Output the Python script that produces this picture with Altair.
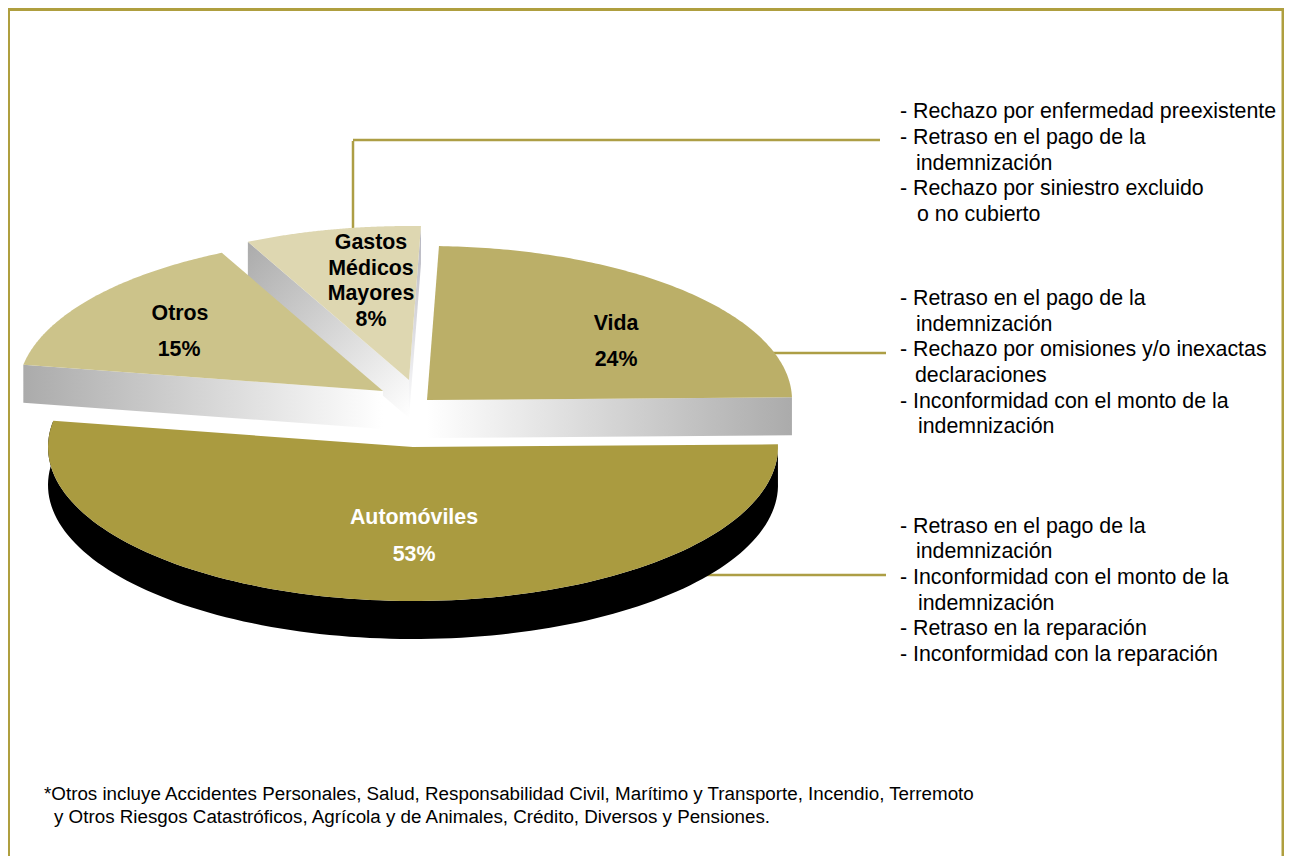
import numpy as np
import altair as alt

# ---- data ----
categorias = ["Automóviles", "Vida", "Otros", "Gastos Médicos Mayores"]
porcentajes = [53.0, 24.2, 15.0, 7.8]
colores = {"Automóviles": "#AA9B40", "Vida": "#BBAF68", "Otros": "#CCC38A",
           "Gastos Médicos Mayores": "#DED7B1"}

etiquetas = [
    ("Otros", True), ("15%", True), ("Vida", True), ("24%", True),
    ("Automóviles", False), ("53%", False), ("Gastos", True), ("Médicos", True),
    ("Mayores", True), ("8%", True),
]
notas = [
    "- Rechazo por enfermedad preexistente", "- Retraso en el pago de la", "indemnización",
    "- Rechazo por siniestro excluido", "o no cubierto",
    "- Retraso en el pago de la", "indemnización", "- Rechazo por omisiones y/o inexactas",
    "declaraciones", "- Inconformidad con el monto de la", "indemnización",
    "- Retraso en el pago de la", "indemnización", "- Inconformidad con el monto de la",
    "indemnización", "- Retraso en la reparación", "- Inconformidad con la reparación",
]
pie_texto = [
    "*Otros incluye Accidentes Personales, Salud, Responsabilidad Civil, Marítimo y Transporte, Incendio, Terremoto",
    "y Otros Riesgos Catastróficos, Agrícola y de Animales, Crédito, Diversos y Pensiones.",
]

# ---- layout (page pixels) ----
W, H = 1276, 848
XS = alt.Scale(domain=[8, 1284], range=[0, W], nice=False, zero=False)
YS = alt.Scale(domain=[8, 856], range=[0, H], nice=False, zero=False)
RX, RY, DEPTH = 365, 154, 38
START = -1.0
CENTROS = {"Automóviles": (413, 447), "Vida": (427, 400), "Otros": (383, 391),
           "Gastos Médicos Mayores": (409, 380)}
ORO = "#AF9F3F"
LINEA = "#AD9E45"

etq_pos = [(180, 314), (179, 350), (616, 324), (616, 360), (414, 518), (414, 555),
           (371, 243), (371, 269), (371, 294), (371, 320)]
nota_pos = [(900, 112), (900, 138), (916, 164), (900, 189), (917, 215),
            (900, 299), (916, 325), (900, 350), (915, 376), (900, 402), (918, 427),
            (900, 527), (916, 552), (900, 578), (918, 604), (900, 629), (900, 655)]
pie_pos = [(44, 794), (54, 817)]


def grad(c0, c1, x2=1, y2=0):
    return alt.LinearGradient(gradient="linear", x1=0, y1=0, x2=x2, y2=y2,
                              stops=[alt.GradientStop(offset=0, color=c0),
                                     alt.GradientStop(offset=1, color=c1)])


def face(points, fill):
    pts = [[float(a), float(b)] for a, b in points]
    pts.append(pts[0])
    feat = {"type": "Feature", "properties": {},
            "geometry": {"type": "Polygon", "coordinates": [pts]}}
    return alt.Chart(alt.Data(values=[feat])).mark_geoshape(
        fill=fill, stroke=None, strokeWidth=0).project(
        type="identity", scale=1, translate=[-8, -8])


def arc(cat, a0, a1, n=120, dy=0):
    cx, cy = CENTROS[cat]
    t = np.radians(np.linspace(a0, a1, n))
    return list(zip(cx + RX * np.cos(t), cy + RY * np.sin(t) + dy))


def rule(x, y, x2=None, y2=None, w=2.5, color=LINEA):
    d = {"x": x, "y": y}
    enc = {"x": alt.X("x:Q", scale=XS, axis=None), "y": alt.Y("y:Q", scale=YS, axis=None)}
    if x2 is not None:
        d["x2"] = x2
        enc["x2"] = alt.X2("x2:Q")
    if y2 is not None:
        d["y2"] = y2
        enc["y2"] = alt.Y2("y2:Q")
    return alt.Chart(alt.Data(values=[d])).mark_rule(color=color, strokeWidth=w).encode(**enc)


def texts(lines, pos, size, bold=False, align="left", colors=None):
    rows = [{"t": t, "x": p[0], "y": p[1], "c": (colors[i] if colors else "#000000")}
            for i, (t, p) in enumerate(zip(lines, pos))]
    return alt.Chart(alt.Data(values=rows)).mark_text(
        font="Liberation Sans", fontSize=size, fontWeight="bold" if bold else "normal",
        align=align, baseline="middle").encode(
        x=alt.X("x:Q", scale=XS, axis=None), y=alt.Y("y:Q", scale=YS, axis=None),
        text="t:N", color=alt.Color("c:N", scale=None))


# angular spans derived from the shares
ang = {c: p * 3.6 for c, p in zip(categorias, porcentajes)}
auto_a = (START, START + ang["Automóviles"])
vida_a = (START - ang["Vida"], START)
otros_a = (auto_a[1], auto_a[1] + ang["Otros"])
gastos_a = (otros_a[1], otros_a[1] + ang["Gastos Médicos Mayores"])


def top(cat, span):
    return face([CENTROS[cat]] + arc(cat, *span), colores[cat])


GRIS = "#ABABAB"
A = "Automóviles"; V = "Vida"; O = "Otros"; G = "Gastos Médicos Mayores"

def shift(p, d=DEPTH):
    return (p[0], p[1] + d)

# Gastos side faces
g_arc = arc(G, *gastos_a)
g_c = CENTROS[G]
gastos_izq = face([g_arc[0], g_c, shift(g_c), shift(g_arc[0])], grad(GRIS, "#FFFFFF", 1, 1))
gastos_der = face([g_arc[-1], shift(g_arc[-1]), shift(g_c), g_c], grad("#B4B4BE", "#FFFFFF", 0, 1))
# Otros side face
o_arc = arc(O, *otros_a)
o_c = CENTROS[O]
otros_lado = face([o_arc[0], o_c, shift(o_c), shift(o_arc[0])], grad(GRIS, "#FFFFFF"))
# Vida side face
v_arc = arc(V, *vida_a)
v_c = CENTROS[V]
vida_lado = face([v_c, v_arc[-1], shift(v_arc[-1]), shift(v_c)], grad("#FFFFFF", GRIS))
# Automoviles side wall (black)
a_arc = arc(A, *auto_a)
auto_lado = face(a_arc + [shift(p) for p in reversed(a_arc)], "#000000")

chart = alt.layer(
    rule(7.5, 5, y2=856, w=5, color=ORO),
    rule(5, 8, x2=1292, w=6, color=ORO),
    rule(1283, 5, y2=856, w=3, color=ORO),
    rule(353, 141, y2=240),
    rule(353, 140, x2=880),
    rule(770, 353, x2=886),
    rule(700, 575, x2=886),
    gastos_izq, gastos_der, top(G, gastos_a),
    otros_lado, top(O, otros_a),
    vida_lado, top(V, vida_a),
    auto_lado, top(A, auto_a),
    texts([e[0] for e in etiquetas], etq_pos, 21.35, bold=True, align="center",
          colors=["#000000" if e[1] else "#FFFFFF" for e in etiquetas]),
    texts(notas, nota_pos, 21.35),
    texts(pie_texto, pie_pos, 18.8),
).properties(
    width=W, height=H, padding=0, background="#FFFFFF",
    autosize=alt.AutoSizeParams(type="none"),
).configure_view(stroke=None)

chart.save("out.html", embed_options={"renderer": "svg", "actions": False})
